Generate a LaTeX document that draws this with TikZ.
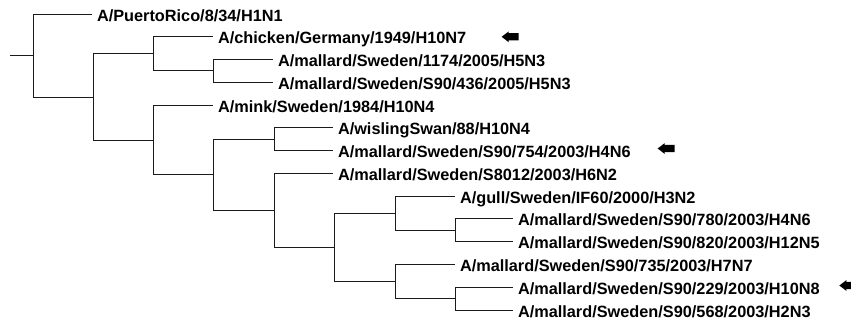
\documentclass[tikz,border=0pt]{standalone}
\usepackage{fontspec}
\setmainfont{Liberation Sans}
\usepackage{tikz}
\usetikzlibrary{shapes.arrows}
\definecolor{ink}{HTML}{1A1A1A}
\tikzset{
  branch/.style={draw=ink,line width=1pt},
  taxon/.style={anchor=west,inner xsep=0pt,inner ysep=0pt,outer xsep=5pt,
    text height=14pt,text depth=0pt,text=black,
    font=\fontsize{16.3}{18}\selectfont\bfseries},
  pointer/.style={single arrow,fill=black,draw=none,shape border rotate=180,
    text height=6.8pt,text depth=0pt,text width=0pt,minimum height=17pt,
    inner sep=0pt,outer sep=0pt,
    single arrow head extend=1.7pt,single arrow tip angle=75}
}

\begin{document}
\begin{tikzpicture}[x=1pt,y=-1pt]
  \useasboundingbox (0,0) rectangle (851,322);

  \coordinate (stem) at (10,55.5);
  \coordinate (root) at (33,55.5);
  \coordinate (ingroup) at (93,97);
  \coordinate (chickenclade) at (153,53.9);
  \coordinate (hfiveclade) at (213,70.9);
  \coordinate (minkclade) at (153,140);
  \coordinate (swedenclade) at (213,174.9);
  \coordinate (swanclade) at (274,139.3);
  \coordinate (eightclade) at (274,210.5);
  \coordinate (recentclade) at (334,247.5);
  \coordinate (gullclade) at (395,213.3);
  \coordinate (hfourclade) at (455,230.3);
  \coordinate (hsevenclade) at (395,281.6);
  \coordinate (htenclade) at (455,298.6);

  \node[taxon] (prico) at (92,14) {A/PuertoRico/8/34/H1N1};
  \node[taxon] (chicken) at (213,36.8) {A/chicken/Germany/1949/H10N7};
  \node[taxon] (m1174) at (273,59.5) {A/mallard/Sweden/1174/2005/H5N3};
  \node[taxon] (m436) at (273,82.3) {A/mallard/Sweden/S90/436/2005/H5N3};
  \node[taxon] (mink) at (213,105.1) {A/mink/Sweden/1984/H10N4};
  \node[taxon] (swan) at (333,127.9) {A/wislingSwan/88/H10N4};
  \node[taxon] (m754) at (333,150.6) {A/mallard/Sweden/S90/754/2003/H4N6};
  \node[taxon] (m8012) at (333,173.4) {A/mallard/Sweden/S8012/2003/H6N2};
  \node[taxon] (gull) at (455,196.2) {A/gull/Sweden/IF60/2000/H3N2};
  \node[taxon] (m780) at (513,218.9) {A/mallard/Sweden/S90/780/2003/H4N6};
  \node[taxon] (m820) at (513,241.7) {A/mallard/Sweden/S90/820/2003/H12N5};
  \node[taxon] (m735) at (455,264.5) {A/mallard/Sweden/S90/735/2003/H7N7};
  \node[taxon] (m229) at (513,287.2) {A/mallard/Sweden/S90/229/2003/H10N8};
  \node[taxon] (m568) at (513,310) {A/mallard/Sweden/S90/568/2003/H2N3};

  \draw[branch] (stem) -- (root);
  \draw[branch] (root) |- (prico.west);
  \draw[branch] (root) |- (ingroup);
  \draw[branch] (ingroup) |- (chickenclade);
  \draw[branch] (ingroup) |- (minkclade);
  \draw[branch] (chickenclade) |- (chicken.west);
  \draw[branch] (chickenclade) |- (hfiveclade);
  \draw[branch] (hfiveclade) |- (m1174.west);
  \draw[branch] (hfiveclade) |- (m436.west);
  \draw[branch] (minkclade) |- (mink.west);
  \draw[branch] (minkclade) |- (swedenclade);
  \draw[branch] (swedenclade) |- (swanclade);
  \draw[branch] (swedenclade) |- (eightclade);
  \draw[branch] (swanclade) |- (swan.west);
  \draw[branch] (swanclade) |- (m754.west);
  \draw[branch] (eightclade) |- (m8012.west);
  \draw[branch] (eightclade) |- (recentclade);
  \draw[branch] (recentclade) |- (gullclade);
  \draw[branch] (recentclade) |- (hsevenclade);
  \draw[branch] (gullclade) |- (gull.west);
  \draw[branch] (gullclade) |- (hfourclade);
  \draw[branch] (hfourclade) |- (m780.west);
  \draw[branch] (hfourclade) |- (m820.west);
  \draw[branch] (hsevenclade) |- (m735.west);
  \draw[branch] (hsevenclade) |- (htenclade);
  \draw[branch] (htenclade) |- (m229.west);
  \draw[branch] (htenclade) |- (m568.west);

  \node[pointer] (chickenmark) at (512.5,36.8) {};
  \node[pointer] (hfourmark) at (668.5,148.5) {};
  \node[pointer] (htenmark) at (850.2,285.5) {};
\end{tikzpicture}
\end{document}
